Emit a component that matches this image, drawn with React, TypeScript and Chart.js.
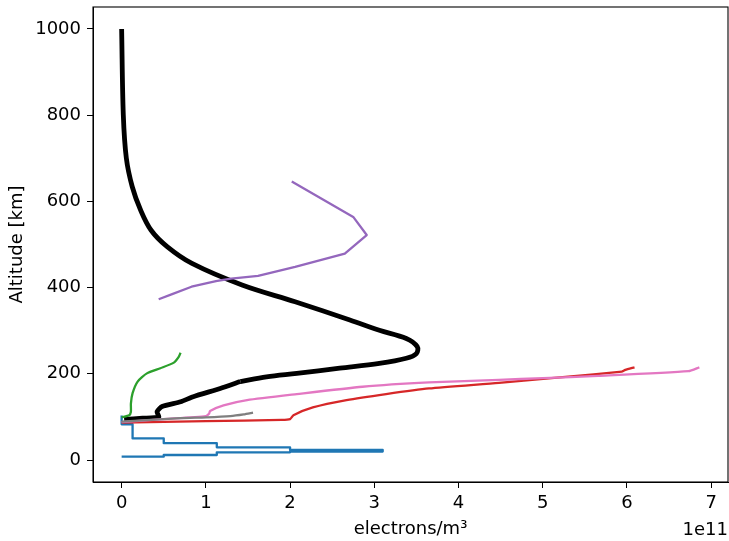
import React, { useEffect, useRef } from "react";
import { Chart, registerables } from "chart.js";

Chart.register(...registerables);

// Electron density profiles, density in units of 1e11 electrons/m^3, altitude in km.
const xTicks = [0, 1, 2, 3, 4, 5, 6, 7];
const yTicks = [0, 200, 400, 600, 800, 1000];

// Model profile: topside and F-region peak (smooth part) ...
const modelUpperAlt = [1000, 800, 700, 634, 580, 533, 495, 456, 406, 367, 325, 301, 282, 263, 247, 236, 224, 213, 201, 193, 182];
const modelUpperNe = [0.0, 0.02, 0.056, 0.126, 0.225, 0.35, 0.54, 0.835, 1.43, 2.06, 2.71, 3.06, 3.38, 3.51, 3.5, 3.38, 3.06, 2.59, 2.08, 1.72, 1.41];
// ... and the bottomside below the kink.
const modelLowerAlt = [182, 166, 147, 135, 124, 112, 100, 97, 94];
const modelLowerNe = [1.41, 1.17, 0.85, 0.7, 0.48, 0.42, 0.44, 0.25, 0.03];

const blueAlt = [7.7, 7.7, 11.6, 11.6, 17.8, 17.8, 19.5, 19.5, 23.4, 23.4, 29.5, 29.5, 39, 39, 50, 50, 83, 83, 103];
const blueNe = [0.0, 0.5, 0.5, 1.13, 1.13, 2.0, 2.0, 3.1, 3.1, 2.0, 2.0, 1.13, 1.13, 0.5, 0.5, 0.13, 0.13, 0.0, 0.0];

const greenAlt = [99, 104, 112, 131, 155, 182, 201, 213, 226, 240, 249];
const greenNe = [0.0, 0.09, 0.11, 0.11, 0.13, 0.19, 0.3, 0.46, 0.62, 0.68, 0.7];

const redAlt = [87, 90, 93, 95, 104, 122, 139, 153, 166, 179, 193, 205, 207, 209, 215];
const redNe = [0.0, 1.0, 1.9, 2.0, 2.04, 2.27, 2.67, 3.14, 3.65, 4.48, 5.27, 5.94, 5.96, 5.98, 6.09];

const purpleAlt = [373, 385, 402, 415, 421, 427, 448, 479, 522, 564, 646];
const purpleNe = [0.44, 0.6, 0.83, 1.12, 1.3, 1.62, 2.06, 2.65, 2.91, 2.75, 2.02];

const pinkAlt = [88, 95, 102, 108, 114, 127, 139, 153, 170, 180, 186, 190, 195, 206, 215];
const pinkNe = [0.0, 0.5, 1.0, 1.04, 1.05, 1.21, 1.49, 2.08, 2.86, 3.65, 4.48, 5.0, 5.66, 6.73, 6.86];

const grayAlt = [89, 97, 99, 102, 106, 110];
const grayNe = [0.0, 0.7, 1.0, 1.29, 1.45, 1.56];

const toPoints = (ne: number[], alt: number[]) => ne.map((v, i) => ({ x: v, y: alt[i] }));

const FONT = "'DejaVu Sans', sans-serif";
const FONT_SIZE = 18;

const framePlugin = {
  id: "frame",
  afterDatasetsDraw(chart: any) {
    const { ctx, chartArea } = chart;
    ctx.save();
    ctx.strokeStyle = "#000";
    ctx.lineWidth = 1.1;
    ctx.strokeRect(chartArea.left, chartArea.top, chartArea.right - chartArea.left, chartArea.bottom - chartArea.top);
    ctx.restore();
  },
  afterDraw(chart: any) {
    const { ctx, chartArea } = chart;
    ctx.save();
    ctx.fillStyle = "#000";
    ctx.font = `${FONT_SIZE}px ${FONT}`;
    ctx.textAlign = "right";
    ctx.textBaseline = "middle";
    ctx.fillText("1e11", chartArea.right, 530);
    ctx.restore();
  },
};

export default function App() {
  const canvasRef = useRef<HTMLCanvasElement | null>(null);

  useEffect(() => {
    if (!canvasRef.current) return;
    const line = (data: any, color: string, width: number, order: number, tension = 0) => ({
      data,
      borderColor: color,
      backgroundColor: color,
      borderWidth: width,
      pointRadius: 0,
      showLine: true,
      tension,
      borderJoinStyle: "round" as const,
      borderCapStyle: "butt" as const,
      order,
    });

    const tickFont = { family: FONT, size: FONT_SIZE };

    const chart = new Chart(canvasRef.current, {
      type: "scatter",
      data: {
        datasets: [
          line(toPoints(modelUpperNe, modelUpperAlt), "#000000", 4.8, 8, 0.35),
          line(toPoints(modelLowerNe, modelLowerAlt), "#000000", 4.8, 7, 0.2),
          line(toPoints(blueNe, blueAlt), "#1f77b4", 2.3, 6),
          line(toPoints(greenNe, greenAlt), "#2ca02c", 2.3, 5, 0.2),
          line(toPoints(redNe, redAlt), "#d62728", 2.3, 4, 0.2),
          line(toPoints(purpleNe, purpleAlt), "#9467bd", 2.3, 3),
          line(toPoints(pinkNe, pinkAlt), "#e377c2", 2.3, 2, 0.2),
          line(toPoints(grayNe, grayAlt), "#7f7f7f", 2.3, 1, 0.2),
        ],
      },
      options: {
        animation: false,
        responsive: false,
        events: [],
        layout: { padding: { left: 0, top: 7, right: 1, bottom: 0 } },
        plugins: { legend: { display: false }, tooltip: { enabled: false } },
        scales: {
          x: {
            type: "linear",
            min: -0.34,
            max: 7.2,
            afterBuildTicks: (scale: any) => {
              scale.ticks = xTicks.map((v) => ({ value: v }));
            },
            afterFit: (scale: any) => {
              scale.height = 59;
              scale.paddingLeft = 0;
              scale.paddingRight = 0;
            },
            grid: { drawOnChartArea: false, drawTicks: true, tickLength: 6, color: "#000", lineWidth: 1 },
            border: { display: true, color: "#000", width: 1 },
            ticks: { color: "#000", font: tickFont, padding: 5, maxRotation: 0, callback: (v: any) => String(v) },
            title: { display: true, text: "electrons/m³", color: "#000", font: tickFont, padding: { top: 0, bottom: 1 } },
          },
          y: {
            type: "linear",
            min: -51,
            max: 1051,
            afterBuildTicks: (scale: any) => {
              scale.ticks = yTicks.map((v) => ({ value: v }));
            },
            afterFit: (scale: any) => {
              scale.width = 93;
              scale.paddingTop = 0;
              scale.paddingBottom = 0;
            },
            grid: { drawOnChartArea: false, drawTicks: true, tickLength: 6, color: "#000", lineWidth: 1 },
            border: { display: true, color: "#000", width: 1 },
            ticks: { color: "#000", font: tickFont, padding: 6, callback: (v: any) => String(v) },
            title: { display: true, text: "Altitude [km]", color: "#000", font: tickFont, padding: { top: 7, bottom: 0 } },
          },
        },
      },
      plugins: [framePlugin],
    });
    return () => chart.destroy();
  }, []);

  return (
    <div style={{ position: "fixed", left: 0, top: 0, width: 729, height: 541, background: "#fff" }}>
      <canvas ref={canvasRef} width={729} height={541} style={{ display: "block", width: 729, height: 541 }} />
    </div>
  );
}
